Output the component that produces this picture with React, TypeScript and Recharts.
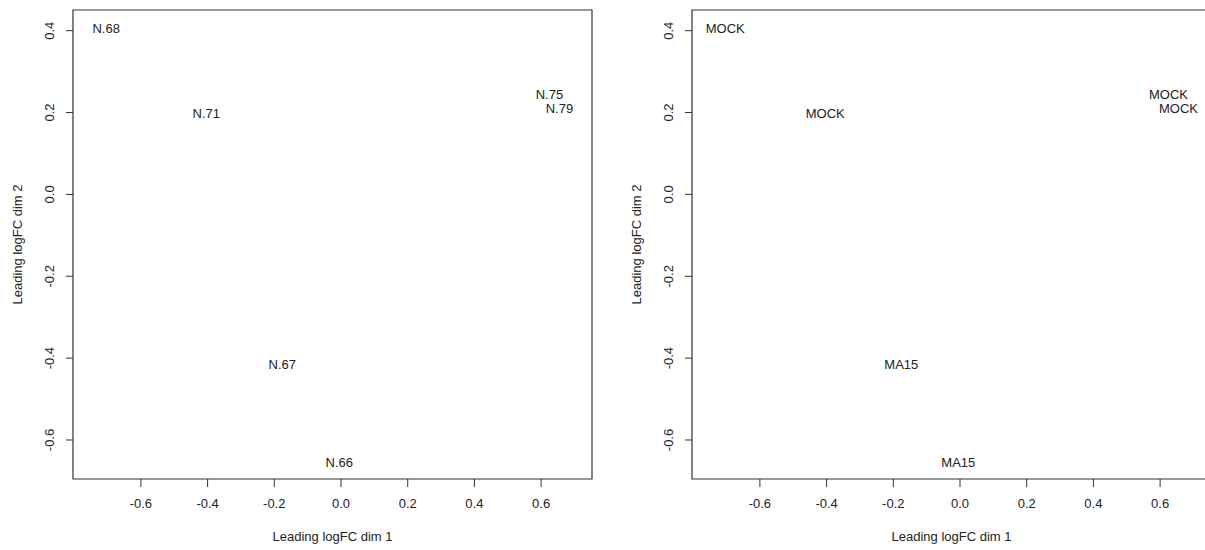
import React from 'react';
import { ScatterChart, Scatter, XAxis, YAxis, ReferenceArea } from 'recharts';

// MDS coordinates (same samples in both panels)
const sampleNames = ['N.66', 'N.67', 'N.68', 'N.71', 'N.75', 'N.79'];
const groupNames = ['MA15', 'MA15', 'MOCK', 'MOCK', 'MOCK', 'MOCK'];
const dim1 = [-0.005, -0.176, -0.704, -0.404, 0.625, 0.655];
const dim2 = [-0.654, -0.415, 0.406, 0.198, 0.244, 0.209];

const xTicks = [-0.6, -0.4, -0.2, 0, 0.2, 0.4, 0.6];
const yTicks = [-0.6, -0.4, -0.2, 0, 0.2, 0.4];
const xDomain = [-0.8036, 0.7526];
const yDomain = [-0.6953, 0.4505];

const FONT = "'Liberation Sans', Arial, Helvetica, sans-serif";
const INK = '#222';

const XTick = (props: any) => {
  const { x, y, payload } = props;
  return (
    <text x={x} y={y} dy="0.71em" textAnchor="middle" fontSize={13} fontFamily={FONT} fill={INK}>
      {payload.value.toFixed(1)}
    </text>
  );
};

const YTick = (props: any) => {
  const { x, y, payload } = props;
  return (
    <text x={x} y={y} textAnchor="middle" transform={`rotate(-90 ${x} ${y})`} fontSize={13} fontFamily={FONT} fill={INK}>
      {payload.value.toFixed(1)}
    </text>
  );
};

const XTitle = (p: any) => {
  const vb = p.viewBox;
  return (
    <text x={vb.x + vb.width / 2} y={541} textAnchor="middle" fontSize={13} fontFamily={FONT} fill={INK}>
      Leading logFC dim 1
    </text>
  );
};

const YTitle = (p: any) => {
  const vb = p.viewBox;
  const cx = 21.5;
  const cy = vb.y + vb.height / 2;
  return (
    <text x={cx} y={cy} textAnchor="middle" transform={`rotate(-90 ${cx} ${cy})`} fontSize={13} fontFamily={FONT} fill={INK}>
      Leading logFC dim 2
    </text>
  );
};

const LabelMark = (props: any) => {
  const { cx, cy, payload } = props;
  return (
    <text x={cx} y={cy} dy="0.35em" textAnchor="middle" fontSize={13} fontFamily={FONT} fill={INK}>
      {payload.label}
    </text>
  );
};

const MdsPanel = ({ labels }: { labels: string[] }) => {
  const data = dim1.map((d, i) => ({ x: d, y: dim2[i], label: labels[i] }));
  return (
    <ScatterChart width={600} height={550} margin={{ top: 10, right: 8, bottom: 0, left: 0 }}>
      <XAxis
        type="number"
        dataKey="x"
        domain={xDomain}
        allowDataOverflow
        ticks={xTicks}
        interval={0}
        height={71}
        tickSize={8}
        tickMargin={12}
        axisLine={false}
        tickLine={{ stroke: '#333', strokeWidth: 1 }}
        tick={<XTick />}
        label={{ content: XTitle }}
      />
      <YAxis
        type="number"
        dataKey="y"
        domain={yDomain}
        allowDataOverflow
        ticks={yTicks}
        interval={0}
        width={73}
        tickSize={7}
        tickMargin={12}
        axisLine={false}
        tickLine={{ stroke: '#333', strokeWidth: 1 }}
        tick={<YTick />}
        label={{ content: YTitle }}
      />
      <ReferenceArea
        x1={xDomain[0]}
        x2={xDomain[1]}
        y1={yDomain[0]}
        y2={yDomain[1]}
        fill="none"
        stroke="#333"
        strokeWidth={1.2}
        ifOverflow="visible"
      />
      <Scatter data={data} shape={<LabelMark />} isAnimationActive={false} />
    </ScatterChart>
  );
};

export default function App() {
  return (
    <div style={{ position: 'absolute', left: 0, top: 0, width: 1205, height: 550, overflow: 'hidden', background: '#fff' }}>
      <div style={{ position: 'absolute', left: 0, top: 0 }}>
        <MdsPanel labels={sampleNames} />
      </div>
      <div style={{ position: 'absolute', left: 619, top: 0 }}>
        <MdsPanel labels={groupNames} />
      </div>
    </div>
  );
}
